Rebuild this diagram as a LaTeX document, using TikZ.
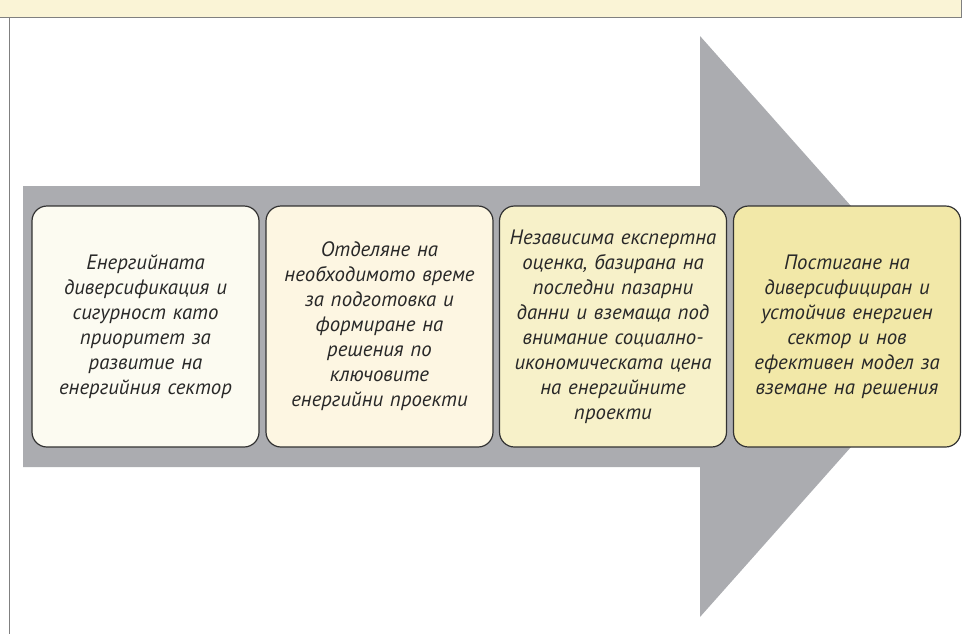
\documentclass[tikz,border=0pt]{standalone}
\usepackage{fontspec}
\setmainfont{PT Sans}
\definecolor{arrowgray}{RGB}{171,172,176}
\definecolor{barfill}{RGB}{250,244,214}
\definecolor{barline}{RGB}{128,128,128}
\definecolor{boxa}{RGB}{252,251,241}
\definecolor{boxb}{RGB}{253,246,226}
\definecolor{boxc}{RGB}{247,241,201}
\definecolor{boxd}{RGB}{242,232,168}
\definecolor{txt}{RGB}{40,40,40}
\definecolor{boxline}{RGB}{50,50,50}
\begin{document}
\begin{tikzpicture}[x=1pt,y=-1pt,
  stagebox/.style={draw=boxline, line width=1.2pt, rounded corners=15pt,
    minimum width=227pt, minimum height=241pt, inner sep=0pt,
    text width=224pt, align=center, text=txt,
    font=\fontsize{20.8}{25}\selectfont\itshape},
  arrowshape/.style={fill=arrowgray, draw=none},
  topbar/.style={fill=barfill, draw=none}]
\useasboundingbox (0,0) rectangle (968,635);
% top bar
\fill[topbar] (0,0) rectangle (961,17);
\draw[barline, line width=1pt] (0,17) -- (961,17) -- (961,0);
% left vertical line
\draw[barline, line width=1pt] (9,17) -- (9,634);
% big arrow
\path[arrowshape] (23,186) -- (700,186) -- (700,36) -- (958,326.5) -- (700,617) -- (700,467) -- (23,467) -- cycle;
% boxes
\node[stagebox, fill=boxa] (s1) at (145.5,326.5) {Енергийната\\диверсификация и\\сигурност като\\приоритет за\\развитие на\\енергийния сектор};
\node[stagebox, fill=boxb] (s2) at (379.5,326.5) {Отделяне на\\необходимото време\\за подготовка и\\формиране на\\решения по\\ключовите\\енергийни проекти};
\node[stagebox, fill=boxc] (s3) at (613,326.5) {Независима експертна\\оценка, базирана на\\последни пазарни\\данни и вземаща под\\внимание социално-\\икономическата цена\\на енергийните\\проекти};
\node[stagebox, fill=boxd] (s4) at (847,326.5) {Постигане на\\диверсифициран и\\устойчив енергиен\\сектор и нов\\ефективен модел за\\вземане на решения};
\end{tikzpicture}
\end{document}
